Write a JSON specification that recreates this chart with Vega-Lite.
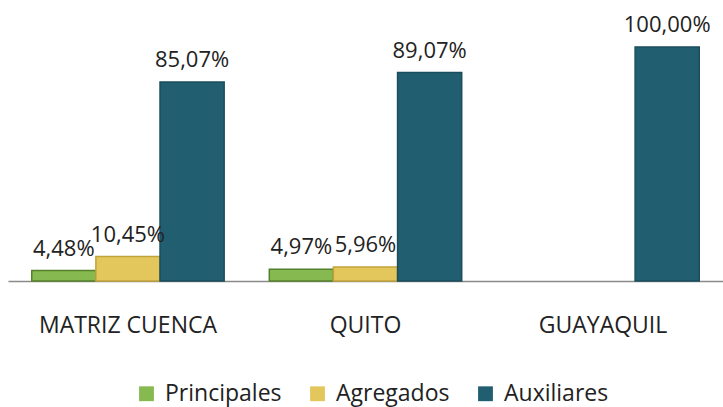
{
  "$schema": "https://vega.github.io/schema/vega-lite/v6.json",
  "width": 715,
  "height": 271,
  "autosize": {"type": "none"},
  "padding": {"left": 8, "top": 10, "right": 0, "bottom": 126},
  "background": "white",
  "config": {
    "locale": {"number": {"decimal": ",", "thousands": ".", "grouping": [3], "currency": ["", "$"]}},
    "view": {"stroke": null},
    "font": "Open Sans"
  },
  "data": {
    "values": [
      {"sede": "MATRIZ CUENCA", "tipo": "Principales", "valor": 0.0448},
      {"sede": "MATRIZ CUENCA", "tipo": "Agregados", "valor": 0.1045},
      {"sede": "MATRIZ CUENCA", "tipo": "Auxiliares", "valor": 0.8507},
      {"sede": "QUITO", "tipo": "Principales", "valor": 0.0497},
      {"sede": "QUITO", "tipo": "Agregados", "valor": 0.0596},
      {"sede": "QUITO", "tipo": "Auxiliares", "valor": 0.8907},
      {"sede": "GUAYAQUIL", "tipo": "Auxiliares", "valor": 1.0}
    ]
  },
  "encoding": {
    "x": {
      "field": "sede", "type": "nominal", "sort": ["MATRIZ CUENCA", "QUITO", "GUAYAQUIL"],
      "scale": {"paddingInner": 0.19, "paddingOuter": 0.1},
      "axis": {"title": null, "labelAngle": 0, "ticks": false, "labelFontSize": 23, "labelColor": "#222", "labelPadding": 33, "domainColor": "#8a8a8a", "domainWidth": 1.5, "labelFont": "Open Sans"}
    },
    "xOffset": {"field": "tipo", "type": "nominal", "sort": ["Principales", "Agregados", "Auxiliares"], "scale": {"domain": ["Principales", "Agregados", "Auxiliares"], "paddingInner": 0}},
    "y": {"field": "valor", "type": "quantitative", "scale": {"domain": [0, 1.158], "nice": false}, "axis": null}
  },
  "layer": [
    {
      "mark": {"type": "bar", "strokeWidth": 1.5},
      "encoding": {
        "color": {
          "field": "tipo", "type": "nominal",
          "scale": {"domain": ["Principales", "Agregados", "Auxiliares"], "range": ["#86b94f", "#e4c75c", "#215e70"]},
          "legend": {"title": null, "orient": "none", "legendX": 127, "legendY": 372, "direction": "horizontal", "symbolType": "square", "symbolSize": 220, "symbolStrokeWidth": 0, "labelFontSize": 23, "labelColor": "#222", "columnPadding": 24, "labelOffset": 7, "labelFont": "Open Sans"}
        },
        "stroke": {
          "field": "tipo", "type": "nominal",
          "scale": {"domain": ["Principales", "Agregados", "Auxiliares"], "range": ["#55802c", "#c2a23a", "#1a4e5c"]},
          "legend": null
        }
      }
    },
    {
      "mark": {"type": "text", "baseline": "bottom", "dy": -10, "fontSize": 22, "color": "#222", "font": "Open Sans"},
      "encoding": {
        "text": {"field": "valor", "type": "quantitative", "format": ".2%"}
      }
    }
  ]
}
